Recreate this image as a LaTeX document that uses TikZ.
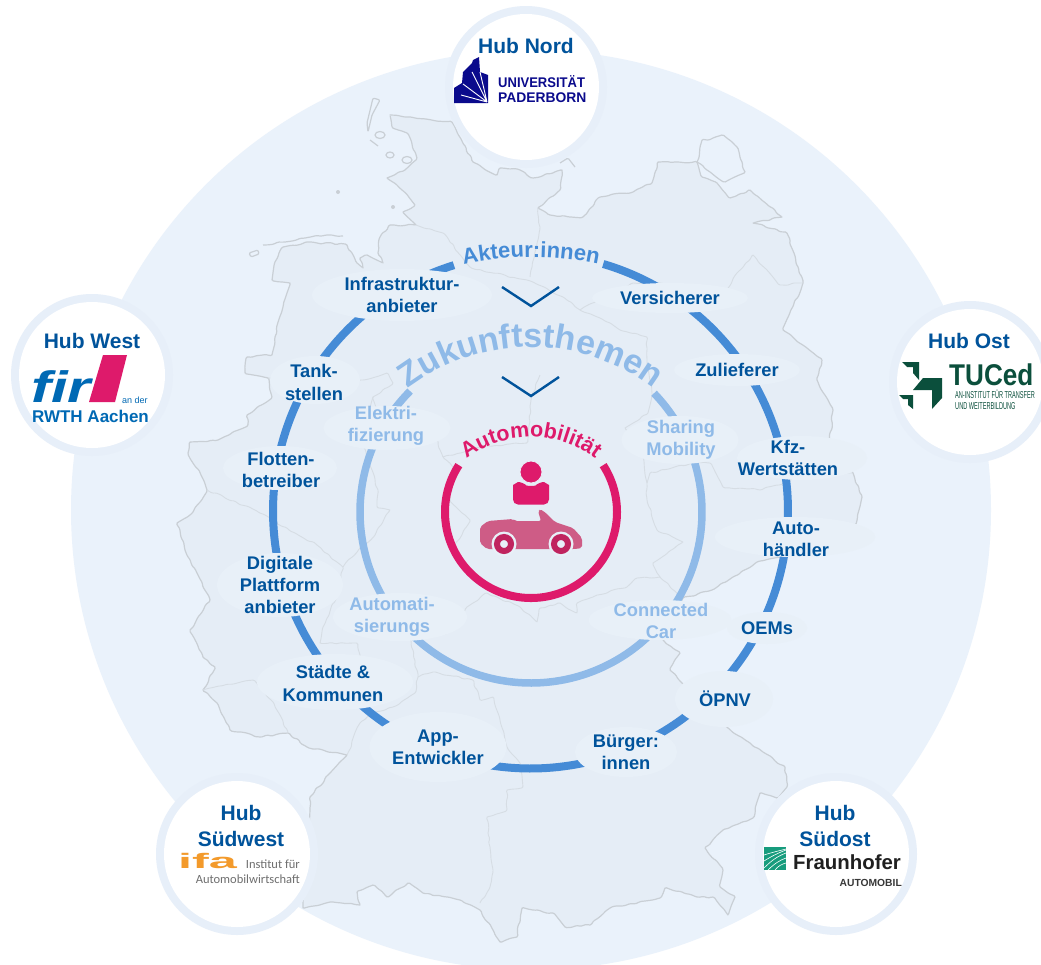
\documentclass[tikz,border=0pt]{standalone}
\usepackage{fontspec}
\usepackage{graphicx}
\setmainfont{Liberation Sans}
\newfontfamily\aktspaced[LetterSpace=7]{Liberation Sans}
\newfontfamily\zukspaced[LetterSpace=14]{Liberation Sans}
\newfontfamily\autospaced[LetterSpace=9]{Liberation Sans}
\newfontfamily\carl{Carlito}
\usetikzlibrary{shapes.geometric,decorations.text,decorations.pathmorphing}
\definecolor{discblue}{HTML}{EAF2FB}
\definecolor{landblue}{HTML}{E5EDF6}
\definecolor{bubbleblue}{HTML}{E8F0F8}
\definecolor{hubring}{HTML}{E7EFF9}
\definecolor{coastgrey}{HTML}{C9CFD5}
\definecolor{stategrey}{HTML}{D6DDE4}
\definecolor{navy}{HTML}{00539B}
\definecolor{ringa}{HTML}{458BD6}
\definecolor{ringz}{HTML}{8FBAE8}
\definecolor{magent}{HTML}{DE1A6B}
\definecolor{carpink}{HTML}{CE5C86}
\definecolor{wheelpink}{HTML}{C0245F}
\definecolor{upb}{HTML}{0A0A8C}
\definecolor{firblue}{HTML}{0069B4}
\definecolor{tuc}{HTML}{0B4F3C}
\definecolor{ifao}{HTML}{F39A2B}
\definecolor{ifag}{HTML}{6E6E6E}
\definecolor{fhg}{HTML}{179C7D}
\tikzset{
  coast/.style={draw=coastgrey,line width=1.2pt,rounded corners=1.2pt,line join=round},
  wiggly/.style={decorate,decoration={random steps,segment length=5pt,amplitude=1.1pt}},
  stateline/.style={draw=stategrey,line width=0.9pt,rounded corners=1.2pt,line join=round,wiggly},
  hubouter/.style={circle,fill=hubring,minimum size=162pt,inner sep=0pt},
  hubinner/.style={circle,fill=white,minimum size=146pt,inner sep=0pt},
  hubtext/.style={text=navy,font=\fontsize{21}{26}\selectfont\bfseries,align=center,inner sep=0pt},
  bubble/.style={ellipse,fill=bubbleblue,inner sep=0pt},
  labd/.style={text=navy,font=\fontsize{18.3}{22.2}\selectfont\bfseries,align=center,inner sep=0pt},
  labl/.style={text=ringz,font=\fontsize{18.3}{22.2}\selectfont\bfseries,align=center,inner sep=0pt},
  ringstroke/.style={line width=8pt},
  chev/.style={draw=navy,line width=2.4pt,miter limit=10},
  small/.style={inner sep=0pt,align=left}
}
\newcommand{\aktfmt}{\color{ringa}\aktspaced\bfseries\fontsize{22}{22}\selectfont}
\newcommand{\zukfmt}{\color{ringz}\zukspaced\bfseries\fontsize{34}{34}\selectfont}
\newcommand{\autofmt}{\color{magent}\autospaced\bfseries\fontsize{21.5}{21.5}\selectfont}
\begin{document}
\begin{tikzpicture}[x=1pt,y=-1pt]
\pgfmathsetseed{7}
\useasboundingbox (0,0) rectangle (1041,964);
\clip (0,0) rectangle (1041,964);
\fill[white] (0,0) rectangle (1041,964);
\node[circle,fill=discblue,minimum size=920pt,inner sep=0pt] (disc) at (531,510) {};

% Germany
\path[fill=landblue,coast,wiggly] (390,115) -- (392,127) -- (407,133) -- (417,158) -- (405,170) -- (387,178) -- (402,190) -- (415,205) -- (403,212) -- (416,225) -- (390,225) -- (380,237) -- (378,253) -- (383,263) -- (367,255) -- (360,258) -- (363,268) -- (357,263) -- (347,245) -- (307,242) -- (283,247) -- (275,262) -- (272,280) -- (290,283) -- (283,307) -- (275,337) -- (272,355) -- (247,357) -- (245,373) -- (268,378) -- (272,397) -- (247,415) -- (248,425) -- (218,440) -- (190,442) -- (188,453) -- (202,477) -- (207,490) -- (193,512) -- (177,523) -- (185,550) -- (197,573) -- (210,600) -- (190,630) -- (203,657) -- (215,667) -- (203,690) -- (217,703) -- (230,730) -- (260,737) -- (288,733) -- (307,747) -- (347,755) -- (330,773) -- (310,797) -- (310,808) -- (303,908) -- (330,902) -- (360,905) -- (357,892) -- (373,885) -- (387,897) -- (408,883) -- (423,893) -- (460,900) -- (480,910) -- (493,930) -- (500,942) -- (517,937) -- (522,908) -- (533,910) -- (553,913) -- (565,927) -- (590,925) -- (610,908) -- (660,898) -- (665,888) -- (697,897) -- (713,897) -- (728,915) -- (735,897) -- (720,887) -- (723,870) -- (705,848) -- (723,830) -- (753,818) -- (760,793) -- (777,798) -- (787,787) -- (785,767) -- (763,752) -- (750,743) -- (728,728) -- (682,683) -- (670,670) -- (680,653) -- (663,640) -- (683,598) -- (712,590) -- (733,577) -- (757,562) -- (780,557) -- (855,525) -- (862,497) -- (853,473) -- (830,440) -- (833,410) -- (817,380) -- (822,360) -- (783,330) -- (803,283) -- (787,233) -- (753,223) -- (782,217) -- (750,190) -- (730,198) -- (717,183) -- (702,177) -- (697,162) -- (658,162) -- (652,183) -- (633,192) -- (600,197) -- (583,217) -- (570,217) -- (550,215) -- (538,208) -- (560,190) -- (562,170) -- (533,178) -- (520,170) -- (500,168) -- (497,175) -- (473,162) -- (452,122) -- cycle;
% islands
\path[coast] (373,98) -- (367,123) -- (368,132) -- (372,115) -- (380,100) -- cycle;
\path[coast] (380,135) ellipse [x radius=5pt,y radius=3.5pt];
\path[coast] (370,140) -- (378,146);
\path[coast] (390,155) ellipse [x radius=4pt,y radius=3pt];
\path[coast] (407,160) ellipse [x radius=5pt,y radius=3.5pt];
\path[coast,wiggly] (263,245) -- (285,242) -- (305,238) -- (330,235) -- (343,236);
\path[coast] (249,253) -- (258,250) -- (259,254) -- (251,257) -- cycle;
\fill[coastgrey] (338,192) circle [radius=2pt];
\fill[coastgrey] (393,207) circle [radius=2pt];
\path[coast,wiggly] (697,162) -- (702,140) -- (708,140) -- (722,135) -- (737,147) -- (745,172) -- (725,182) -- (710,172) -- (697,162);
\path[coast] (575,167) -- (568,158) -- (560,163);
% state borders
\path[stateline] (416,225) -- (443,233) -- (470,267) -- (493,273) -- (527,280) -- (563,297) -- (580,310) -- (600,318) -- (620,330) -- (647,337) -- (647,360) -- (652,393) -- (648,413) -- (625,428) -- (640,445) -- (647,483);
\path[stateline] (538,208) -- (540,227) -- (530,277);
\path[stateline] (803,283) -- (780,285) -- (753,255) -- (737,273) -- (727,290) -- (690,287) -- (660,283) -- (633,283) -- (600,300) -- (580,310);
\path[stateline] (647,483) -- (650,473) -- (693,463) -- (710,463) -- (723,487) -- (760,490) -- (800,478) -- (853,473);
\path[stateline] (647,483) -- (647,500) -- (657,530) -- (683,542) -- (653,563) -- (660,577) -- (683,598);
\path[stateline] (660,577) -- (637,578) -- (627,587) -- (593,597) -- (577,603) -- (577,613) -- (560,603) -- (540,608) -- (537,622) -- (520,607) -- (487,593) -- (467,607) -- (447,633) -- (410,637);
\path[stateline] (268,378) -- (320,382) -- (363,380) -- (387,373) -- (393,383) -- (373,397) -- (378,415) -- (400,430) -- (437,440) -- (443,457) -- (455,470) -- (450,500) -- (470,520) -- (455,545);
\path[stateline] (443,457) -- (480,447) -- (527,443) -- (531,400) -- (540,375);
\path[stateline] (373,397) -- (362,440) -- (378,490) -- (377,507) -- (390,510) -- (375,535) -- (360,548) -- (343,567);
\path[stateline] (317,545) -- (343,567) -- (337,595) -- (323,627) -- (320,643) -- (357,643) -- (360,655) -- (352,690);
\path[stateline] (203,690) -- (253,680) -- (273,702) -- (280,715) -- (288,733);
\path[stateline] (207,490) -- (255,510) -- (317,545);
\path[stateline] (347,755) -- (360,723) -- (373,713) -- (393,707) -- (415,693) -- (418,677) -- (410,637);
\path[stateline] (418,677) -- (433,672) -- (473,680) -- (480,700) -- (493,697) -- (507,747) -- (520,763) -- (523,787) -- (507,790) -- (507,810) -- (487,817) -- (490,847) -- (493,870) -- (490,887) -- (480,903);

% hubs
\node[hubouter] (nordo) at (526,87) {};
\node[hubouter] (westo) at (92,375) {};
\node[hubouter] (osto) at (970,382) {};
\node[hubouter] (swo) at (237,854) {};
\node[hubouter] (soo) at (836,854) {};
\node[hubinner] (nordi) at (nordo) {};
\node[hubinner] (westi) at (westo) {};
\node[hubinner] (osti) at (osto) {};
\node[hubinner] (swi) at (swo) {};
\node[hubinner] (soi) at (soo) {};
\node[hubtext] (nordt) at (526,45.5) {Hub Nord};
\node[hubtext] (westt) at (92,341) {Hub West};
\node[hubtext] (ostt) at (969,341) {Hub Ost};
\node[hubtext] (swt) at (241,826) {Hub\\Südwest};
\node[hubtext] (sot) at (835,826) {Hub\\Südost};

% Logo Paderborn
\fill[upb] (454,103) -- (454,88) -- (462,83) -- (463,72) -- (472,63) -- (473,60) -- (479,57) -- (480,72) -- (488,75) -- (488,103) -- cycle;
\draw[white,line width=0.9pt] (487,102) -- (461,95) (487,102) -- (463,84) (487,102) -- (472,72) (487,102) -- (480,72);
\node[small,text=upb,anchor=base west] (upb1) at (498,87.5) {\scalebox{0.93}[1]{\fontsize{14}{14}\selectfont\bfseries UNIVERSITÄT}};
\node[small,text=upb,anchor=base west] (upb2) at (498,102.5) {\scalebox{0.99}[1]{\fontsize{14}{14}\selectfont\bfseries PADERBORN}};

% Logo FIR
\node[small,text=firblue,anchor=base west] (fir) at (31,402) {\scalebox{1.36}[1]{\fontsize{44}{44}\selectfont\bfseries\itshape fir}};
\fill[magent] (103,355) -- (127,355) -- (115,402) -- (89,402) -- cycle;
\node[small,text=firblue,font=\fontsize{9}{9}\selectfont,anchor=base west] (ander) at (122,403) {an der};
\node[small,text=firblue,font=\fontsize{17}{17}\selectfont\bfseries,anchor=base] (rwth) at (90.5,422) {RWTH Aachen};

% Logo TUCed
\fill[tuc] (902,362) -- (919,362) -- (919,380) -- (913,373) -- (913,367) -- (907,367) -- cycle;
\fill[tuc] (913,390) -- (923,378) -- (942,378) -- (942,398) -- (932,409) -- (932,390) -- cycle;
\fill[tuc] (899,395) -- (913,395) -- (913,409) -- (908,405) -- (908,399) -- (903,399) -- cycle;
\node[small,text=tuc,anchor=base west] (tuced) at (949,385) {\scalebox{0.87}[1]{\fontsize{30}{30}\selectfont\bfseries TUCed}};
\node[small,text=tuc,anchor=base west] (tuc1) at (955,398) {\scalebox{0.56}[1]{\fontsize{10}{10}\selectfont AN-INSTITUT FÜR TRANSFER}};
\node[small,text=tuc,anchor=base west] (tuc2) at (955,409) {\scalebox{0.56}[1]{\fontsize{10}{10}\selectfont UND WEITERBILDUNG}};

% Logo ifa
\node[small,text=ifao,anchor=base west] (ifa) at (178,868) {\scalebox{2.4}[1]{\fontsize{21}{21}\selectfont\bfseries ifa}};
\node[small,text=ifag,font=\fontsize{12.5}{12.5}\selectfont\carl,anchor=base east] (inst) at (300,868) {Institut für};
\node[small,text=ifag,font=\fontsize{12.5}{12.5}\selectfont\carl,anchor=base east] (amw) at (300,883) {Automobilwirtschaft};

% Logo Fraunhofer
\fill[fhg] (764,847) rectangle (786,870);
\draw[white,line width=0.6pt] (764,868) .. controls (772,860) and (778,856) .. (786,853);
\draw[white,line width=0.6pt] (768,870) .. controls (774,864) and (780,860) .. (786,858);
\draw[white,line width=0.6pt] (764,861) .. controls (772,856) and (778,853) .. (786,850);
\draw[white,line width=0.6pt] (764,855) .. controls (770,853) and (778,851) .. (786,849);
\draw[white,line width=0.6pt] (775,870) .. controls (778,866) and (782,864) .. (786,863);
\node[small,text=black!88,font=\fontsize{20.4}{20.4}\selectfont\bfseries,anchor=base west] (fraun) at (793,869) {Fraunhofer};
\node[small,text=black!78,font=\fontsize{10.3}{10.3}\selectfont\bfseries,anchor=base east] (automo) at (902,886) {AUTOMOBIL};

% rings
\draw[ringa,ringstroke] plot[domain=107.3:433.6,samples=260] ({530.5+257.5*cos(\x)},{511-257.5*sin(\x)});
\draw[ringz,line width=7.5pt] plot[domain=135:404,samples=200] ({531+171*cos(\x)},{512-171*sin(\x)});
\draw[magent,ringstroke] plot[domain=147:393,samples=180] ({531+86*cos(\x)},{512-86*sin(\x)});

% curved titles
\path[decorate,decoration={text along path,text align=center,text={|\aktfmt|Akteur:innen}}] plot[domain=110:70,samples=60] ({531+319*cos(\x)},{576-319*sin(\x)});
\path[decorate,decoration={text along path,text align=center,text={|\zukfmt|Zukunftsthemen}}] plot[domain=150:30,samples=110] ({531+202*cos(\x)},{549-202*sin(\x)});
\path[decorate,decoration={text along path,text align=center,text={|\autofmt|Automobilität}}] plot[domain=135:45,samples=80] ({531+107*cos(\x)},{544-107*sin(\x)});

% chevrons
\coordinate (c1l) at (502,287); \coordinate (c1m) at (531,306); \coordinate (c1r) at (559,287);
\coordinate (c2l) at (502,377); \coordinate (c2m) at (531,396); \coordinate (c2r) at (559,377);
\draw[chev] (c1l) -- (c1m) -- (c1r);
\draw[chev] (c2l) -- (c2m) -- (c2r);

% bubbles
\node[bubble,minimum width=180pt,minimum height=52pt] (b1) at (402,295) {};
\node[bubble,minimum width=156pt,minimum height=30pt] (b2) at (670,298) {};
\node[bubble,minimum width=126pt,minimum height=32pt] (b3) at (737,370) {};
\node[bubble,minimum width=130pt,minimum height=44pt] (b4) at (802,458) {};
\node[bubble,minimum width=160pt,minimum height=40pt] (b5) at (795,537) {};
\node[bubble,minimum width=80pt,minimum height=32pt] (b6) at (767,628) {};
\node[bubble,minimum width=98pt,minimum height=56pt] (b7) at (724,699) {};
\node[bubble,minimum width=102pt,minimum height=50pt] (b8) at (626,752) {};
\node[bubble,minimum width=137pt,minimum height=70pt] (b9) at (438,747) {};
\node[bubble,minimum width=156pt,minimum height=56pt] (b10) at (335,682) {};
\node[bubble,minimum width=126pt,minimum height=64pt] (b11) at (280,585) {};
\node[bubble,minimum width=114pt,minimum height=44pt] (b12) at (280,468) {};
\node[bubble,minimum width=90pt,minimum height=48pt] (b13) at (315,380) {};
\node[bubble,minimum width=127pt,minimum height=44pt] (b14) at (387,428) {};
\node[bubble,minimum width=117pt,minimum height=48pt] (b15) at (680,440) {};
\node[bubble,minimum width=134pt,minimum height=48pt] (b16) at (400,617) {};
\node[bubble,minimum width=143pt,minimum height=40pt] (b17) at (660,620) {};

% labels
\node[labd] (t1) at (402,295) {Infrastruktur-\\anbieter};
\node[labd] (t2) at (670,298) {Versicherer};
\node[labd] (t3) at (737,370) {Zulieferer};
\node[labd] (t4) at (788,458) {Kfz-\\Wertstätten};
\node[labd] (t5) at (796,539) {Auto-\\händler};
\node[labd] (t6) at (767,628) {OEMs};
\node[labd] (t7) at (725,699) {ÖPNV};
\node[labd] (t8) at (626,752) {Bürger:\\innen};
\node[labd] (t9) at (438,747.5) {App-\\Entwickler};
\node[labd] (t10) at (333,683.5) {Städte \&\\Kommunen};
\node[labd] (t11) at (280,585) {Digitale\\Plattform\\anbieter};
\node[labd] (t12) at (281,470) {Flotten-\\betreiber};
\node[labd] (t13) at (314,382.5) {Tank-\\stellen};
\node[labl] (t14) at (386,426) {Elektri-\\fizierung};
\node[labl] (t15) at (681,439.5) {Sharing\\Mobility};
\node[labl] (t16) at (392,617) {Automati-\\sierungs};
\node[labl] (t17) at (661,621) {Connected\\Car};

% icons
\node[circle,fill=magent,draw=bubbleblue,line width=0.8pt,minimum size=22pt,inner sep=0pt] (head) at (531,472) {};
\fill[magent,rounded corners=5pt] (513,504.5) -- (513,490) .. controls (513,485) and (518,482) .. (523,482) .. controls (527,486) and (535,486) .. (539,482) .. controls (544,482) and (549,485) .. (549,490) -- (549,504.5) -- cycle;
\fill[carpink,rounded corners=2pt] (480,543) -- (480,527) -- (488,521) -- (513,519) -- (515,521) -- (541,521) -- (538,511) -- (540,509) -- (546,513) -- (555,522) -- (573,528) -- (582,538) -- (582,548) -- (575,549) -- (487,549) -- cycle;
\node[circle,fill=bubbleblue,minimum size=25pt,inner sep=0pt] (hl) at (504,544) {};
\node[circle,fill=bubbleblue,minimum size=25pt,inner sep=0pt] (hr) at (561,544) {};
\node[circle,draw=wheelpink,line width=6pt,fill=bubbleblue,minimum size=14pt,inner sep=0pt] (wl) at (504,544) {};
\node[circle,draw=wheelpink,line width=6pt,fill=bubbleblue,minimum size=14pt,inner sep=0pt] (wr) at (561,544) {};
\end{tikzpicture}
\end{document}
